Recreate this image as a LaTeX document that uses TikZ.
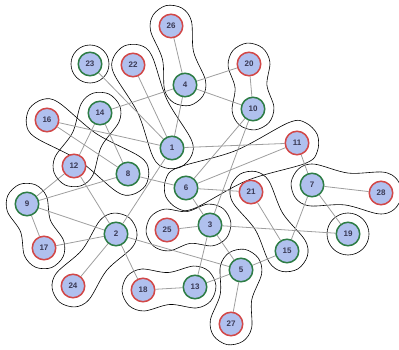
\documentclass[tikz,border=0pt]{standalone}
\usepackage{fontspec}
\setmainfont{Liberation Sans}
\usetikzlibrary{calc,backgrounds}
\definecolor{nodefill}{HTML}{B0C0EE}
\definecolor{ringred}{HTML}{D24848}
\definecolor{ringgreen}{HTML}{2E7D46}
\definecolor{numcol}{HTML}{3A3A55}
\definecolor{edgegray}{HTML}{9E9E9E}
\tikzset{
  vert/.style={circle, minimum size=23.5pt, inner sep=0pt, fill=nodefill,
    line width=1.5pt, text=numcol,
    font=\fontsize{8}{9}\selectfont\bfseries},
  redv/.style={vert, draw=ringred},
  greenv/.style={vert, draw=ringgreen},
  edge/.style={draw=edgegray, line width=0.8pt},
  hull/.style={draw=black, line width=0.6pt},
}
% capsule with a slight waist around two vertices: #1, #2 names, #3 radius, #4 waist
\newcommand\pairhull[4]{%
  \coordinate (hm) at ($(#1.center)!0.5!(#2.center)$);
  \coordinate (h1) at ($(#1.center)!#3!90:(#2.center)$);
  \coordinate (h2) at ($(#1.center)!#3!135:(#2.center)$);
  \coordinate (h3) at ($(#1.center)!#3!180:(#2.center)$);
  \coordinate (h4) at ($(#1.center)!#3!225:(#2.center)$);
  \coordinate (h5) at ($(#1.center)!#3!270:(#2.center)$);
  \coordinate (h6) at ($(hm)!#4!-90:(#2.center)$);
  \coordinate (h7) at ($(#2.center)!#3!90:(#1.center)$);
  \coordinate (h8) at ($(#2.center)!#3!135:(#1.center)$);
  \coordinate (h9) at ($(#2.center)!#3!180:(#1.center)$);
  \coordinate (h10) at ($(#2.center)!#3!225:(#1.center)$);
  \coordinate (h11) at ($(#2.center)!#3!270:(#1.center)$);
  \coordinate (h12) at ($(hm)!#4!90:(#2.center)$);
  \draw[hull] plot[smooth cycle, tension=0.55] coordinates
    {(h1) (h2) (h3) (h4) (h5) (h6) (h7) (h8) (h9) (h10) (h11) (h12)};
}
\begin{document}
\begin{tikzpicture}[x=1pt, y=-1pt]
\useasboundingbox (0,0) rectangle (399,350);

% vertices
\node[greenv] (n1)  at (172,148) {1};
\node[greenv] (n2)  at (116,234) {2};
\node[greenv] (n3)  at (210,225) {3};
\node[greenv] (n4)  at (185,85)  {4};
\node[greenv] (n5)  at (241,270) {5};
\node[greenv] (n6)  at (186,188) {6};
\node[greenv] (n7)  at (312,185) {7};
\node[greenv] (n8)  at (128,174) {8};
\node[greenv] (n9)  at (27,204)  {9};
\node[greenv] (n10) at (253,109) {10};
\node[redv]   (n11) at (297,143) {11};
\node[redv]   (n12) at (74,166)  {12};
\node[greenv] (n13) at (195,287) {13};
\node[greenv] (n14) at (100,113) {14};
\node[greenv] (n15) at (287,251) {15};
\node[redv]   (n16) at (47,120)  {16};
\node[redv]   (n17) at (44,248)  {17};
\node[redv]   (n18) at (143,290) {18};
\node[greenv] (n19) at (348,234) {19};
\node[redv]   (n20) at (249,64)  {20};
\node[redv]   (n21) at (251,192) {21};
\node[redv]   (n22) at (133,65)  {22};
\node[greenv] (n23) at (90,64)   {23};
\node[redv]   (n24) at (73,286)  {24};
\node[redv]   (n25) at (167,230) {25};
\node[redv]   (n26) at (171,26)  {26};
\node[redv]   (n27) at (231,324) {27};
\node[redv]   (n28) at (381,193) {28};

\begin{scope}[on background layer]
  % cluster outlines
  \pairhull{n26}{n4}{21pt}{16pt}
  \pairhull{n22}{n1}{21pt}{16pt}
  \pairhull{n20}{n10}{21pt}{16pt}
  \pairhull{n16}{n8}{21pt}{16pt}
  \pairhull{n14}{n12}{21pt}{16pt}
  \pairhull{n17}{n9}{21pt}{16pt}
  \pairhull{n24}{n2}{21pt}{16pt}
  \pairhull{n18}{n13}{21pt}{16pt}
  \pairhull{n27}{n5}{21pt}{16pt}
  \pairhull{n25}{n3}{21pt}{16pt}
  \pairhull{n21}{n15}{21pt}{16pt}
  \pairhull{n28}{n7}{21pt}{16pt}
  \pairhull{n11}{n6}{22pt}{16pt}
  \draw[hull] (n23.center) circle[radius=19pt];
  \draw[hull] (n19.center) circle[radius=21pt];

  % connections
  \foreach \a/\b in {26/4, 22/1, 23/1, 4/1, 4/14, 4/10, 4/20, 20/10,
      14/12, 14/8, 16/1, 16/8, 1/11, 1/2, 12/2, 12/9, 9/8, 9/2, 9/17,
      17/2, 24/2, 2/18, 2/5, 8/6, 6/11, 6/10, 10/3, 6/21, 6/3, 25/3,
      3/19, 3/5, 3/13, 21/15, 7/15, 7/28, 7/19, 11/7, 5/15, 5/13,
      5/27, 18/13}
    \draw[edge] (n\a) -- (n\b);
\end{scope}
\end{tikzpicture}
\end{document}
